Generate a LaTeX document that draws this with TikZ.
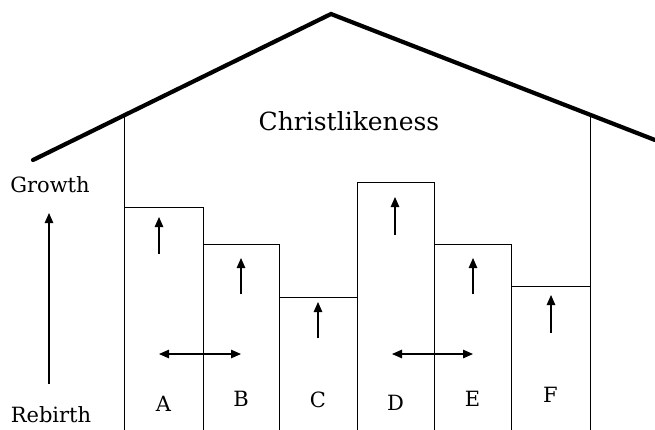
\documentclass[tikz,border=0pt]{standalone}
\usepackage{fontspec}
\setmainfont{DejaVu Serif}
\usetikzlibrary{arrows.meta}
\begin{document}
\begin{tikzpicture}[x=1pt,y=-1pt,
    roof/.style={line width=4.2pt},
    wall/.style={line width=1pt},
    up/.style={line width=1.1pt,-{Triangle[length=10pt,width=8.5pt]}},
    both/.style={line width=1.1pt,{Triangle[length=10pt,width=8.5pt]}-{Triangle[length=10pt,width=8.5pt]}},
    lbl/.style={font=\fontsize{21}{21}\selectfont,inner sep=0pt,anchor=base}]
  \useasboundingbox (0,0) rectangle (655,429);
  % roof
  \coordinate (eaveL) at (33,160);
  \coordinate (apex) at (331,14);
  \coordinate (eaveR) at (655,140);
  \draw[roof, line cap=round] (eaveL) -- (apex) -- (eaveR);
  % walls
  \coordinate (wallL) at (124,116);
  \coordinate (wallR) at (590,113);
  \draw[wall] (wallL) -- (124,207);
  \draw[wall] (wallR) -- (590,286);
  \node[lbl, font=\fontsize{25}{25}\selectfont] (title) at (349,130) {Christlikeness};
  % boxes, up arrows and letters
  \foreach \nm/\xl/\xr/\ytop/\xa/\ylo/\yhi/\ybase in
    {A/124/203/207/159/254/217/411,
     B/203/279/244/241/294/258/406,
     C/279/357/297/318/338/302/407,
     D/357/434/182/395/235/197/410,
     E/434/511/244/473/294/258/406,
     F/511/590/286/551/333/295/402}
  {
    \draw[wall] (\xl,435) rectangle (\xr,\ytop);
    \coordinate (\nm-lo) at (\xa,\ylo);
    \coordinate (\nm-hi) at (\xa,\yhi);
    \draw[up] (\nm-lo) -- (\nm-hi);
    \node[lbl] (\nm) at ({(\xl+\xr)/2},\ybase) {\nm};
  }
  % sideways arrows
  \coordinate (ab-l) at (159,354);
  \coordinate (ab-r) at (241,354);
  \draw[both] (ab-l) -- (ab-r);
  \coordinate (de-l) at (392,354);
  \coordinate (de-r) at (473,354);
  \draw[both] (de-l) -- (de-r);
  % growth axis
  \node[lbl] (growth) at (50,192) {Growth};
  \node[lbl] (rebirth) at (51,422) {Rebirth};
  \coordinate (axis-lo) at (49,384);
  \coordinate (axis-hi) at (49,213);
  \draw[up] (axis-lo) -- (axis-hi);
\end{tikzpicture}
\end{document}
